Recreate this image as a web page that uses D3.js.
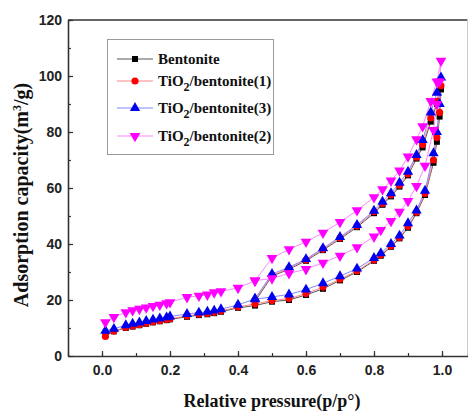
<!DOCTYPE html>
<html>
<head>
<meta charset="utf-8">
<script src="https://cdn.jsdelivr.net/npm/d3@7"></script>
<style>
  body { margin: 0; background: #fff; }
  svg { display: block; }
</style>
</head>
<body>
<svg id="drawing_region"></svg>
<script>
// relative pressure, adsorption branch then desorption branch
const pAds = [0.01, 0.035, 0.07, 0.09, 0.11, 0.13, 0.15, 0.17, 0.19, 0.20, 0.25, 0.285, 0.31, 0.33, 0.35,
    0.40, 0.45, 0.50, 0.55, 0.60, 0.65, 0.70, 0.75, 0.80, 0.82, 0.85, 0.875, 0.90, 0.925, 0.95, 0.975,
    0.985, 0.993, 0.997];
const pDes = [0.985, 0.967, 0.943, 0.925, 0.90, 0.875, 0.85, 0.825, 0.80, 0.75, 0.70, 0.65, 0.60, 0.55,
    0.50, 0.45];

const bentoniteAds = [7.5, 8.8, 10.0, 10.5, 11.0, 11.5, 12.0, 12.4, 12.8, 13.1, 14.0, 14.6, 14.9, 15.3, 15.8,
    17.2, 18.0, 19.4, 20.0, 21.8, 24.0, 27.0, 30.0, 34.0, 35.8, 39.0, 42.0, 45.8, 51.0, 57.5, 69.0,
    76.5, 85.5, 95.2];
const bentoniteDes = [90, 83.7, 74.5, 70.5, 64.5, 60.5, 57.0, 54.0, 51.0, 46.0, 41.8, 37.8, 34.0, 31.0, 28.5, 19.5];

const tb1Ads = [7.0, 8.9, 10.2, 10.7, 11.2, 11.7, 12.2, 12.6, 13.0, 13.3, 14.3, 14.9, 15.2, 15.6, 16.1,
    17.5, 18.6, 19.8, 20.5, 22.3, 24.6, 27.4, 30.4, 34.3, 36.1, 39.3, 42.3, 46.3, 51.3, 58.0, 70.0,
    78.0, 87.0, 96.5];
const tb1Des = [91, 85, 75.5, 71, 65, 61, 57.5, 54.5, 51.5, 46.4, 42.1, 38.1, 34.3, 31.3, 28.8, 20.0];

const tb3Ads = [9.0, 9.7, 11.0, 11.5, 12.0, 12.5, 13.0, 13.4, 13.8, 14.1, 15.0, 15.5, 15.8, 16.2, 16.7,
    18.3, 20.3, 21.1, 22.0, 23.7, 26.0, 28.5, 31.2, 35.0, 36.7, 40.0, 43.0, 47.4, 52.0, 59.0, 72.4,
    80.0, 90.0, 99.5];
const tb3Des = [94, 87, 77.1, 71.8, 65.8, 61.9, 58.1, 55.1, 51.9, 46.8, 42.5, 38.5, 34.6, 31.7, 29.3, 20.5];

const tb2Ads = [12.0, 13.9, 15.6, 16.3, 16.8, 17.3, 17.8, 18.3, 18.8, 19.2, 21.0, 21.5, 21.9, 22.7, 23.1,
    24.3, 26.9, 27.7, 29.5, 31.0, 33.3, 35.8, 38.8, 42.6, 45.0, 48.2, 51.5, 55.3, 60.7, 67.9, 80.7,
    90.0, 98.0, 105.4];
const tb2Des = [98, 91, 82, 77.4, 71.2, 66.2, 62.6, 59.5, 56.7, 52.0, 47.8, 44.0, 40.8, 38.1, 35.0, 26.9];

const xTicks = [0.0, 0.2, 0.4, 0.6, 0.8, 1.0];
const yTicks = [0, 20, 40, 60, 80, 100, 120];

const series = [
    { name: "Bentonite", sub: false, ads: bentoniteAds, des: bentoniteDes, color: "#000000", line: "#444", symbol: d3.symbolSquare, size: 36 },
    { name: "(1)", sub: true, ads: tb1Ads, des: tb1Des, color: "#ff0000", line: "#ff7777", symbol: d3.symbolCircle, size: 40 },
    { name: "(3)", sub: true, ads: tb3Ads, des: tb3Des, color: "#0000ee", line: "#7777ff", symbol: d3.symbolTriangle, size: 46 },
    { name: "(2)", sub: true, ads: tb2Ads, des: tb2Des, color: "#ff00ff", line: "#ff77ff", symbol: d3.symbolTriangle, size: 50, down: true }
];

const width = 472, height = 413;
const svg = d3.select("#drawing_region").attr("width", width).attr("height", height);

const x = d3.scaleLinear().domain([-0.1, 1.075]).range([68, 467.5]);
const y = d3.scaleLinear().domain([0, 120]).range([356, 20]);

// frame
svg.append("line").attr("x1", 68).attr("x2", 467.5).attr("y1", 20).attr("y2", 20)
    .attr("stroke", "#333").attr("stroke-width", 1.6);
svg.append("line").attr("x1", 467.5).attr("x2", 467.5).attr("y1", 20).attr("y2", 356)
    .attr("stroke", "#ccc").attr("stroke-width", 1);

// minor ticks
svg.append("g").attr("transform", "translate(0,356)")
    .call(d3.axisBottom(x).tickValues(d3.range(-1, 11).map(i => i / 10)).tickSize(-3).tickFormat(""))
    .call(g => g.select(".domain").remove())
    .selectAll("line").attr("stroke", "#333").attr("stroke-width", 1.2);
svg.append("g").attr("transform", "translate(68,0)")
    .call(d3.axisLeft(y).tickValues(d3.range(0, 121, 10)).tickSize(-3).tickFormat(""))
    .call(g => g.select(".domain").remove())
    .selectAll("line").attr("stroke", "#333").attr("stroke-width", 1.2);

// major axes
const xAxis = svg.append("g").attr("transform", "translate(0,356)")
    .call(d3.axisBottom(x).tickValues(xTicks).tickSize(-5).tickPadding(9).tickFormat(d3.format(".1f")).tickSizeOuter(0));
const yAxis = svg.append("g").attr("transform", "translate(68,0)")
    .call(d3.axisLeft(y).tickValues(yTicks).tickSize(-5).tickPadding(6).tickSizeOuter(0));

[xAxis, yAxis].forEach(g => {
    g.select(".domain").attr("stroke", "#333").attr("stroke-width", 1.6);
    g.selectAll(".tick line").attr("stroke", "#333").attr("stroke-width", 1.2);
    g.selectAll("text").attr("font-family", "Liberation Sans, Arial, sans-serif")
        .attr("font-weight", "bold").attr("font-size", "14px").attr("fill", "#222");
});

// axis titles
svg.append("text")
    .attr("transform", "translate(28,195) rotate(-90)")
    .attr("text-anchor", "middle")
    .attr("font-family", "Liberation Serif, Times New Roman, serif")
    .attr("font-weight", "bold").attr("font-size", "20px").attr("fill", "#111")
    .call(t => {
        t.append("tspan").text("Adsorption capacity(m");
        t.append("tspan").attr("baseline-shift", "super").attr("font-size", "12px").text("3");
        t.append("tspan").text("/g)");
    });

svg.append("text")
    .attr("x", 272).attr("y", 407)
    .attr("text-anchor", "middle")
    .attr("font-family", "Liberation Serif, Times New Roman, serif")
    .attr("font-weight", "bold").attr("font-size", "18px").attr("fill", "#111")
    .text("Relative pressure(p/p°)");

// series
const plot = svg.append("g");
const line = d3.line().x(d => x(d[0])).y(d => y(d[1]));

series.forEach(s => {
    const pts = pAds.map((p, i) => [p, s.ads[i]]).concat(pDes.map((p, i) => [p, s.des[i]]));
    s.pts = pts;
    plot.append("path")
        .attr("d", line(pts))
        .attr("fill", "none")
        .attr("stroke", s.line)
        .attr("stroke-width", 0.9);
});

series.forEach(s => {
    const sym = d3.symbol().type(s.symbol).size(s.size);
    plot.append("g").selectAll("path")
        .data(s.pts)
        .enter()
        .append("path")
        .attr("d", sym)
        .attr("transform", d => `translate(${x(d[0])},${y(d[1])})` + (s.down ? " rotate(180)" : ""))
        .attr("fill", s.color);
});

// legend
const legend = svg.append("g");
legend.append("rect")
    .attr("x", 107.5).attr("y", 39.5).attr("width", 166).attr("height", 115)
    .attr("fill", "#fff").attr("stroke", "#999").attr("stroke-width", 1);

const legendY = [59, 81, 108, 136];
series.forEach((s, i) => {
    const ly = legendY[i];
    legend.append("line").attr("x1", 117).attr("x2", 153).attr("y1", ly).attr("y2", ly)
        .attr("stroke", s.line).attr("stroke-width", 0.9);
    legend.append("path")
        .attr("d", d3.symbol().type(s.symbol).size(s.size)())
        .attr("transform", `translate(135,${ly})` + (s.down ? " rotate(180)" : ""))
        .attr("fill", s.color);
    const t = legend.append("text")
        .attr("x", 158).attr("y", ly + 5)
        .attr("font-family", "Liberation Serif, Times New Roman, serif")
        .attr("font-weight", "bold").attr("font-size", "15px").attr("fill", "#111");
    if (s.sub) {
        t.append("tspan").text("TiO");
        t.append("tspan").attr("dy", 5).attr("font-size", "12px").text("2");
        t.append("tspan").attr("dy", -5).text("/bentonite" + s.name);
    } else {
        t.text(s.name);
    }
});
</script>
</body>
</html>
